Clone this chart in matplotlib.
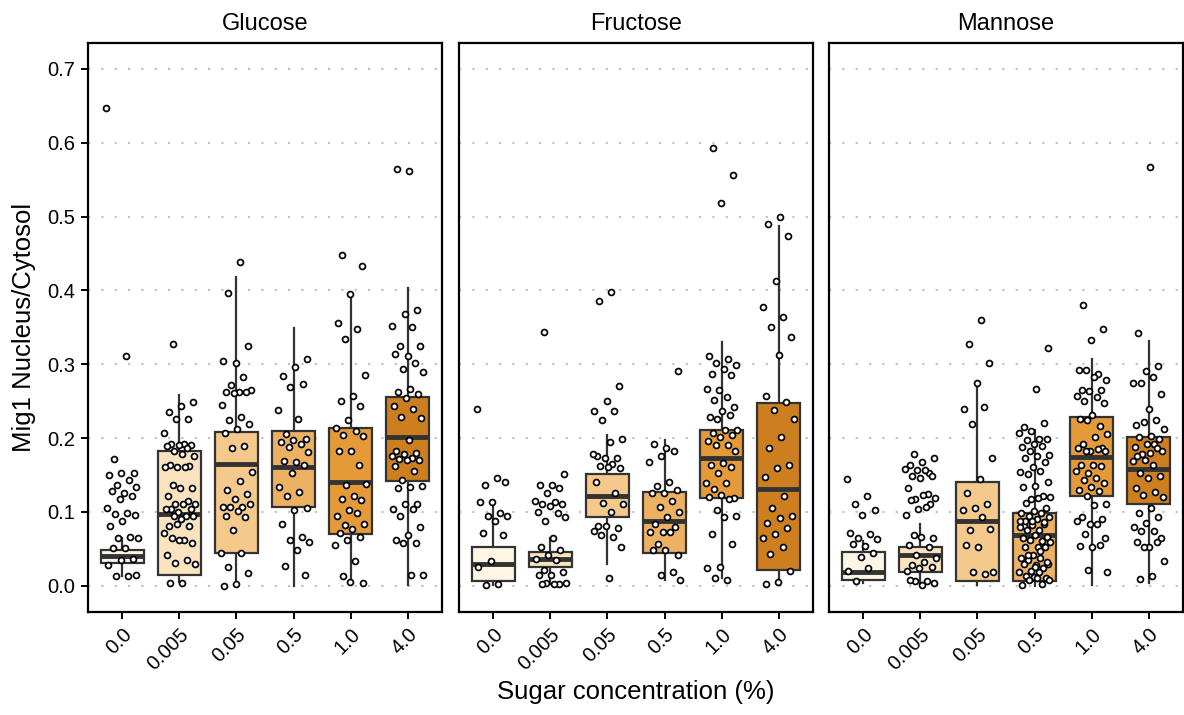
import numpy as np
import matplotlib
matplotlib.use("Agg")
import matplotlib.pyplot as plt

plt.rcParams['font.family'] = ['Liberation Sans', 'DejaVu Sans']

sugars = ["Glucose", "Fructose", "Mannose"]
concentrations = ["0.0", "0.005", "0.05", "0.5", "1.0", "4.0"]
box_colors = ['#fef6e4', '#fbe3c0', '#f4c98b', '#ecb163', '#e59a39', '#cd7f1f']

# box summaries per concentration: (whisker low, q1, median, q3, whisker high)
glucose_stats = [
    (0.013, 0.031, 0.040, 0.048, 0.064),
    (0.005, 0.015, 0.097, 0.182, 0.258),
    (0.001, 0.044, 0.165, 0.208, 0.418),
    (0.000, 0.107, 0.161, 0.209, 0.349),
    (0.003, 0.070, 0.140, 0.213, 0.389),
    (0.001, 0.142, 0.202, 0.256, 0.403),
]
fructose_stats = [
    (0.001, 0.007, 0.029, 0.052, 0.114),
    (0.002, 0.026, 0.036, 0.045, 0.064),
    (0.030, 0.093, 0.122, 0.151, 0.204),
    (0.008, 0.044, 0.088, 0.127, 0.197),
    (0.010, 0.119, 0.173, 0.211, 0.330),
    (0.001, 0.021, 0.131, 0.247, 0.487),
]
mannose_stats = [
    (0.003, 0.008, 0.019, 0.045, 0.061),
    (0.002, 0.018, 0.042, 0.053, 0.083),
    (0.001, 0.006, 0.088, 0.140, 0.276),
    (0.000, 0.007, 0.069, 0.099, 0.211),
    (0.001, 0.121, 0.174, 0.229, 0.307),
    (0.003, 0.111, 0.158, 0.202, 0.331),
]

# single cell ratios
glucose_points = [
    [0.647, 0.311, 0.172, 0.152, 0.153, 0.150, 0.143, 0.137, 0.134, 0.125, 0.128, 0.122,
     0.118, 0.105, 0.099, 0.097, 0.096, 0.088, 0.081, 0.066, 0.065, 0.065, 0.051, 0.051,
     0.036, 0.035, 0.028, 0.013, 0.013, 0.0145],
    [0.328, 0.249, 0.243, 0.235, 0.226, 0.226, 0.207, 0.192, 0.192, 0.190, 0.190, 0.189,
     0.187, 0.183, 0.175, 0.179, 0.164, 0.162, 0.161, 0.161, 0.161, 0.136, 0.132, 0.133,
     0.122, 0.115, 0.110, 0.110, 0.110, 0.104, 0.104, 0.100, 0.104, 0.094, 0.094, 0.094,
     0.090, 0.081, 0.081, 0.083, 0.072, 0.062, 0.065, 0.058, 0.062, 0.042, 0.035, 0.031,
     0.030, 0.004, 0.003],
    [0.439, 0.397, 0.324, 0.302, 0.305, 0.282, 0.272, 0.265, 0.263, 0.263, 0.262, 0.261,
     0.245, 0.228, 0.224, 0.219, 0.212, 0.207, 0.189, 0.186, 0.154, 0.142, 0.129, 0.124,
     0.117, 0.107, 0.107, 0.107, 0.111, 0.101, 0.095, 0.093, 0.075, 0.044, 0.044, 0.025,
     0.017, 0.002, 0.000],
    [0.307, 0.296, 0.284, 0.273, 0.269, 0.238, 0.226, 0.205, 0.199, 0.197, 0.194, 0.192,
     0.188, 0.181, 0.168, 0.169, 0.164, 0.153, 0.134, 0.127, 0.121, 0.105, 0.102, 0.083,
     0.066, 0.062, 0.059, 0.049, 0.027, 0.015],
    [0.448, 0.433, 0.395, 0.356, 0.347, 0.334, 0.286, 0.257, 0.250, 0.244, 0.224, 0.214,
     0.210, 0.204, 0.203, 0.183, 0.182, 0.164, 0.137, 0.138, 0.122, 0.118, 0.116, 0.103,
     0.095, 0.098, 0.082, 0.083, 0.077, 0.072, 0.066, 0.062, 0.055, 0.034, 0.013, 0.003,
     0.005],
    [0.562, 0.565, 0.373, 0.368, 0.352, 0.350, 0.325, 0.325, 0.311, 0.314, 0.301, 0.293,
     0.290, 0.266, 0.263, 0.260, 0.254, 0.243, 0.240, 0.229, 0.227, 0.197, 0.182, 0.180,
     0.178, 0.176, 0.173, 0.172, 0.170, 0.170, 0.162, 0.156, 0.143, 0.135, 0.134, 0.133,
     0.111, 0.111, 0.104, 0.104, 0.094, 0.080, 0.069, 0.062, 0.058, 0.058, 0.015, 0.015],
]
fructose_points = [
    [0.240, 0.146, 0.136, 0.140, 0.113, 0.113, 0.098, 0.095, 0.094, 0.088, 0.071, 0.069,
     0.034, 0.025, 0.002, 0.001],
    [0.343, 0.151, 0.137, 0.137, 0.132, 0.125, 0.115, 0.113, 0.111, 0.110, 0.108, 0.100,
     0.098, 0.087, 0.093, 0.064, 0.052, 0.049, 0.042, 0.036, 0.035, 0.021, 0.019, 0.015,
     0.015, 0.002, 0.004, 0.003, 0.002, 0.002],
    [0.398, 0.385, 0.270, 0.250, 0.236, 0.236, 0.224, 0.199, 0.194, 0.176, 0.173, 0.173,
     0.178, 0.165, 0.162, 0.160, 0.161, 0.141, 0.125, 0.112, 0.110, 0.100, 0.081, 0.078,
     0.081, 0.074, 0.066, 0.069, 0.053, 0.011],
    [0.291, 0.187, 0.192, 0.182, 0.176, 0.167, 0.140, 0.135, 0.129, 0.126, 0.126, 0.115,
     0.107, 0.100, 0.093, 0.083, 0.080, 0.073, 0.073, 0.073, 0.057, 0.042, 0.048, 0.048,
     0.019, 0.015, 0.008],
    [0.593, 0.556, 0.518, 0.311, 0.307, 0.301, 0.299, 0.294, 0.287, 0.285, 0.265, 0.266,
     0.256, 0.252, 0.242, 0.236, 0.229, 0.231, 0.226, 0.211, 0.211, 0.207, 0.204, 0.202,
     0.196, 0.190, 0.191, 0.182, 0.166, 0.163, 0.161, 0.152, 0.139, 0.139, 0.131, 0.119,
     0.123, 0.120, 0.118, 0.103, 0.095, 0.093, 0.070, 0.057, 0.026, 0.024, 0.008, 0.011],
    [0.499, 0.490, 0.474, 0.412, 0.377, 0.364, 0.350, 0.337, 0.312, 0.257, 0.249, 0.238,
     0.226, 0.202, 0.187, 0.164, 0.159, 0.147, 0.122, 0.105, 0.095, 0.092, 0.085, 0.078,
     0.070, 0.065, 0.053, 0.043, 0.020, 0.005, 0.002],
]
mannose_points = [
    [0.145, 0.122, 0.110, 0.102, 0.096, 0.072, 0.070, 0.065, 0.063, 0.054, 0.057, 0.044,
     0.039, 0.020, 0.024, 0.007],
    [0.179, 0.173, 0.168, 0.164, 0.153, 0.157, 0.158, 0.157, 0.149, 0.149, 0.146, 0.133,
     0.124, 0.117, 0.119, 0.123, 0.116, 0.111, 0.104, 0.096, 0.106, 0.069, 0.065, 0.066,
     0.055, 0.053, 0.042, 0.037, 0.032, 0.028, 0.025, 0.024, 0.020, 0.006, 0.007, 0.004,
     0.001, 0.008],
    [0.360, 0.328, 0.302, 0.275, 0.239, 0.242, 0.219, 0.173, 0.145, 0.125, 0.111, 0.105,
     0.102, 0.093, 0.075, 0.077, 0.053, 0.055, 0.016, 0.019, 0.019],
    [0.322, 0.266, 0.215, 0.220, 0.209, 0.207, 0.199, 0.198, 0.199, 0.192, 0.188, 0.189,
     0.182, 0.177, 0.175, 0.173, 0.168, 0.161, 0.154, 0.156, 0.151, 0.140, 0.135, 0.134,
     0.122, 0.118, 0.120, 0.119, 0.112, 0.105, 0.101, 0.099, 0.098, 0.095, 0.093, 0.090,
     0.081, 0.083, 0.082, 0.080, 0.076, 0.076, 0.066, 0.069, 0.064, 0.061, 0.062, 0.059,
     0.052, 0.053, 0.052, 0.042, 0.037, 0.038, 0.035, 0.030, 0.028, 0.030, 0.024, 0.020,
     0.018, 0.019, 0.013, 0.011, 0.012, 0.001, 0.002, 0.008, 0.008, 0.011, 0.087, 0.086,
     0.088, 0.088, 0.047, 0.042, 0.032, 0.025],
    [0.380, 0.347, 0.333, 0.292, 0.287, 0.292, 0.278, 0.282, 0.265, 0.265, 0.264, 0.257,
     0.255, 0.250, 0.248, 0.231, 0.226, 0.216, 0.224, 0.205, 0.202, 0.192, 0.187, 0.182,
     0.186, 0.185, 0.182, 0.182, 0.164, 0.164, 0.162, 0.153, 0.155, 0.146, 0.143, 0.139,
     0.134, 0.130, 0.128, 0.122, 0.110, 0.109, 0.093, 0.090, 0.083, 0.088, 0.083, 0.070,
     0.065, 0.053, 0.054, 0.055, 0.021, 0.018],
    [0.567, 0.342, 0.298, 0.291, 0.275, 0.282, 0.275, 0.260, 0.240, 0.217, 0.225, 0.222,
     0.212, 0.203, 0.202, 0.199, 0.192, 0.188, 0.192, 0.179, 0.182, 0.180, 0.176, 0.187,
     0.170, 0.169, 0.163, 0.153, 0.149, 0.146, 0.133, 0.127, 0.123, 0.120, 0.105, 0.098,
     0.093, 0.085, 0.080, 0.074, 0.074, 0.064, 0.052, 0.059, 0.059, 0.052, 0.033, 0.013,
     0.009],
]

all_stats = [glucose_stats, fructose_stats, mannose_stats]
all_points = [glucose_points, fructose_points, mannose_points]

W, H = 1184, 715
fig = plt.figure(figsize=(W / 100, H / 100), dpi=100)
panel_left = [88, 459, 829]
panel_w, top_px, bottom_px = 354, 43, 612

edge = '#333333'
for k, sugar in enumerate(sugars):
    ax = fig.add_axes([panel_left[k] / W, 1 - bottom_px / H, panel_w / W, (bottom_px - top_px) / H])

    bstats = [dict(whislo=s[0], q1=s[1], med=s[2], q3=s[3], whishi=s[4], label=c)
              for s, c in zip(all_stats[k], concentrations)]
    pos = np.arange(1, len(concentrations) + 1)
    bp = ax.bxp(bstats, positions=pos, widths=0.75, patch_artist=True,
                showfliers=False, showcaps=False,
                boxprops=dict(edgecolor=edge, linewidth=1.6),
                medianprops=dict(color=edge, linewidth=3.5, solid_capstyle='butt'),
                whiskerprops=dict(color=edge, linewidth=1.6))
    for patch, col in zip(bp['boxes'], box_colors):
        patch.set_facecolor(col)
        patch.set_zorder(2)
    for ln in bp['whiskers']:
        ln.set_zorder(1.9)

    # jittered cells (deterministic spread)
    for i, vals in enumerate(all_points[k]):
        n = len(vals)
        offs = ((np.arange(n) * 0.618034 + 0.31 * i) % 1.0 - 0.5) * 0.56
        ax.scatter(pos[i] + offs, vals, s=18, facecolor='white', edgecolor='black',
                   linewidth=1.25, zorder=3)

    ax.set_xlim(0.4, 6.6)
    ax.set_ylim(-0.0356, 0.735)
    ax.set_yticks(np.arange(0, 0.71, 0.1))
    ax.yaxis.grid(True, linestyle=(0, (1, 5)), color='#c4c4c4', linewidth=1.6)
    ax.set_axisbelow(True)
    ax.set_xticks(pos)
    ax.set_xticklabels(concentrations, rotation=45, ha='right', va='top',
                       rotation_mode='anchor', fontsize=14.5)
    ax.tick_params(axis='x', length=5, width=1.4, color='black', pad=4)
    if k == 0:
        ax.set_yticklabels([f"{v:.1f}" for v in np.arange(0, 0.71, 0.1)], fontsize=14.5)
        ax.tick_params(axis='y', length=5, width=1.4, color='black', pad=4)
    else:
        ax.tick_params(axis='y', left=False, labelleft=False)
    for sp in ax.spines.values():
        sp.set_linewidth(1.6)
        sp.set_color('black')
    ax.set_title(sugar, fontsize=17, pad=9)

fig.text((88 + 1183) / 2 / W, 1 - 692 / H, "Sugar concentration (%)", ha='center', va='center',
         fontsize=18.5)
fig.text(24 / W, 1 - 327 / H, "Mig1 Nucleus/Cytosol", ha='center', va='center',
         rotation=90, fontsize=18.5)

fig.savefig("out.png", dpi=100)
